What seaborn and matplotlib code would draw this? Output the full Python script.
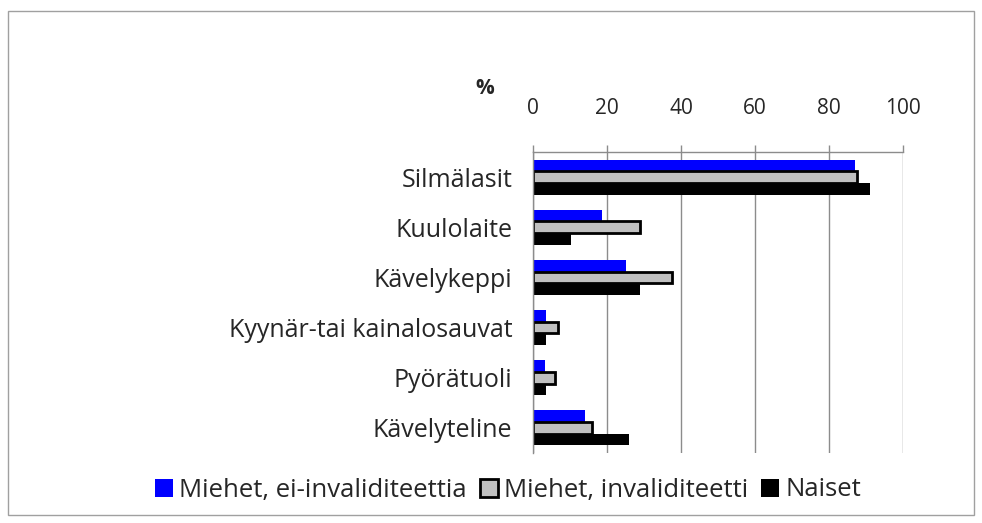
import matplotlib
matplotlib.use("Agg")
import matplotlib.pyplot as plt
import seaborn as sns
import pandas as pd
from matplotlib.patches import Rectangle, Patch

categories = ["Silmälasit", "Kuulolaite", "Kävelykeppi",
              "Kyynär-tai kainalosauvat", "Pyörätuoli", "Kävelyteline"]
series_names = ["Miehet, ei-invaliditeettia", "Miehet, invaliditeetti", "Naiset"]
miehet_ei_inv = [87, 18.7, 25, 3.6, 3.2, 14]
miehet_inv = [87.5, 29, 37.5, 6.8, 5.9, 16]
naiset = [91, 10.2, 29, 3.6, 3.4, 26]
x_ticks = [0, 20, 40, 60, 80, 100]

rows = []
for name, vals in zip(series_names, [miehet_ei_inv, miehet_inv, naiset]):
    for c, v in zip(categories, vals):
        rows.append({"cat": c, "series": name, "value": v})
df = pd.DataFrame(rows)

sns.set_theme(style="white")
plt.rcParams["font.family"] = ["Open Sans", "DejaVu Sans"]

fig = plt.figure(figsize=(9.82, 5.23), dpi=100)
ax = fig.add_axes([533/982, 1-453/523, 370/982, 301/523])

colors = ["#0000ff", "#c0c0c0", "#000000"]
sns.barplot(data=df, y="cat", x="value", hue="series", order=categories,
            hue_order=series_names, palette=colors, orient="h", width=0.7,
            saturation=1, ax=ax, legend=False)
for p in ax.containers[1]:
    p.set_edgecolor("black")
    p.set_linewidth(2)
for i in (0, 2):
    for p in ax.containers[i]:
        p.set_edgecolor("none")
        p.set_linewidth(0)

ax.set_xlim(0, 100)
ax.set_xticks(x_ticks)
ax.xaxis.tick_top()
ax.tick_params(axis="x", which="both", top=True, bottom=False, direction="out",
               length=5, width=1, color="#8c8c8c", labelsize=15, pad=19)
ax.tick_params(axis="y", left=False, labelsize=18, pad=9)
ax.set_xlabel("")
ax.set_ylabel("")
ax.grid(axis="x", color="#8c8c8c", linewidth=1)
ax.grid(axis="y", visible=False)
ax.set_axisbelow(True)
for s in ["right", "bottom"]:
    ax.spines[s].set_visible(False)
for s in ["top", "left"]:
    ax.spines[s].set_color("#8c8c8c")
    ax.spines[s].set_linewidth(1)

fig.text(485/982, 1-88/523, "%", fontsize=15, fontweight="bold",
         ha="center", va="center")

handles = [Patch(facecolor=colors[0], edgecolor="none"),
           Patch(facecolor=colors[1], edgecolor="black", linewidth=2),
           Patch(facecolor=colors[2], edgecolor="none")]
fig.legend(handles, series_names, loc="center", bbox_to_anchor=(508/982, 1-490/523),
           ncol=3, frameon=False, fontsize=18.5, handlelength=0.7, handleheight=0.7,
           handletextpad=0.25, columnspacing=0.5)

fig.add_artist(Rectangle((8/982, 1-515/523), 966/982, 504/523, transform=fig.transFigure,
                         fill=False, edgecolor="#a0a0a0", linewidth=1))

fig.savefig("out.png", dpi=100)
